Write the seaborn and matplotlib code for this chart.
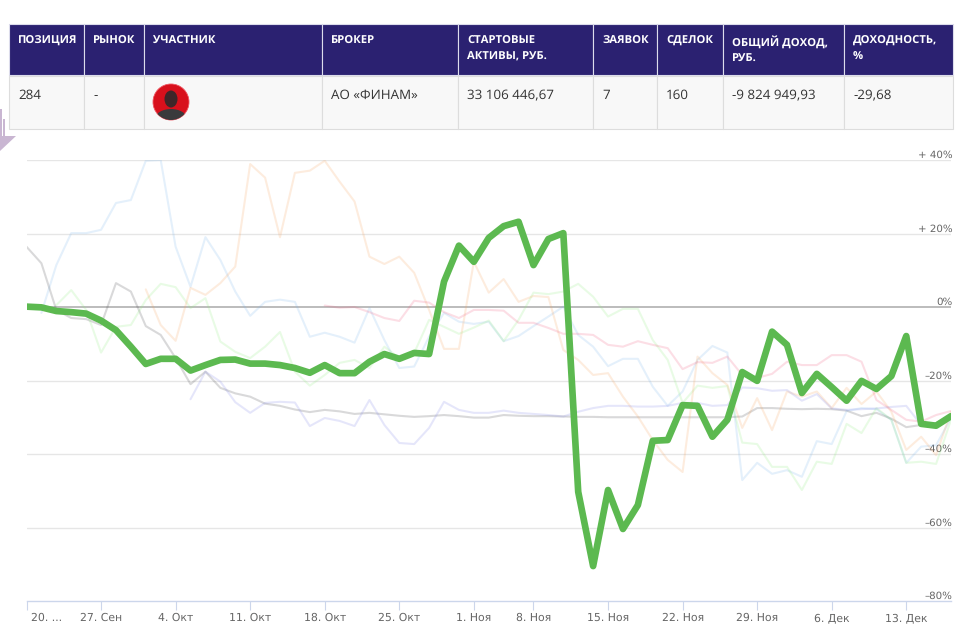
"""trader result card: summary table and return curves"""

import matplotlib.pyplot as plt
from matplotlib.patches import Circle, Ellipse, Polygon, Rectangle
from matplotlib.transforms import ScaledTranslation
import numpy as np
import pandas as pd
import seaborn as sns

nan = np.nan

# table
col_edges = [9, 84, 144, 322, 458, 593, 657, 723, 844, 953]
headers = [
    "ПОЗИЦИЯ",
    "РЫНОК",
    "УЧАСТНИК",
    "БРОКЕР",
    "СТАРТОВЫЕ\nАКТИВЫ, РУБ.",
    "ЗАЯВОК",
    "СДЕЛОК",
    "ОБЩИЙ ДОХОД,\nРУБ.",
    "ДОХОДНОСТЬ,\n%",
]
row = ["284", "-", "", "АО «ФИНАМ»", "33 106 446,67", "7", "160", "-9 824 949,93", "-29,68"]

# chart
tick_idx = [0, 5, 10, 15, 20, 25, 30, 34, 39, 44, 49, 54, 59]
tick_labels = [
    "20. ...", "27. Сен", "4. Окт", "11. Окт", "18. Окт", "25. Окт", "1. Ноя",
    "8. Ноя", "15. Ноя", "22. Ноя", "29. Ноя", "6. Дек", "13. Дек",
]
y_ticks = [40, 20, 0, -20, -40, -60, -80]
y_labels = ["+ 40%", "+ 20%", "0%", "–20%", "–40%", "–60%", "–80%"]

main = [
    0.1, -0.1, -1.1, -1.4, -1.8, -3.7, -6.3, -10.8, -15.5, -14.1,
    -14.1, -17.3, -15.8, -14.4, -14.3, -15.4, -15.4, -15.8, -16.6, -17.9,
    -15.8, -18, -18, -14.9, -12.8, -14.1, -12.5, -12.8, 6.9, 16.7,
    12.3, 18.8, 22, 23.2, 11.4, 18.5, 20.1, -50.3, -70.5, -49.8,
    -60.4, -53.9, -36.4, -36.2, -26.7, -26.9, -35.3, -30.7, -17.7, -20.1,
    -6.7, -10.3, -23.4, -18.2, -21.8, -25.5, -20.1, -22.3, -18.8, -7.9,
    -31.8, -32.3, -29.7,
]
gray = [
    16.4, 11.9, -0.8, -3, -3.3, -4.9, 6.5, 4.2, -5.2, -7.6,
    -13.9, -21, -17.6, -22, -23.5, -24.4, -26.3, -26.9, -27.9, -28.6,
    -28, -28.4, -29.1, -28.8, -29.2, -29.6, -29.9, -29.7, -29.4, -29.7,
    -30.1, -30.1, -29.4, -29.6, -29.7, -29.7, -29.8, -29.9, -29.9, -30,
    -30, -30, -30, -30, -30, -30, -30, -30, -29.8, -27.5,
    -27.5, -27.7, -27.8, -27.7, -27.8, -28.2, -29.7, -28.8, -30.4, -32.7,
    -32.1, -31.6, -29.4,
]
blue = [
    nan, -1.6, 11.4, 20.1, 20.1, 21, 28.3, 29.1, 39.8, 40,
    16.4, 5.5, 19, 12.8, 4.2, -2.4, 1.4, 2, 1.4, -8.1,
    -7, -8.1, -9.7, -0.3, -9, -16.6, -16.2, -8.1, -1.6, -4,
    -4.6, -4, -9.3, -7.9, -5.2, -2.6, 0.1, -7.6, -10.8, -16.1,
    -14.1, -14.1, -21.7, -26.9, -23, -14.4, -10.6, -12.4, -47.1, -42.4,
    -45.4, -44.4, -46.2, -36.5, -37.3, -28.3, -27.5, -27.8, -30.7, -42.4,
    -38, -37.6, -30.2,
]
orange = [
    nan, nan, nan, nan, nan, nan, nan, nan, 4.8, -4.9,
    -9.2, 5.2, 3.3, 6.5, 11, 38.9, 35.2, 19, 36.5, 37.1,
    39.8, 34.1, 28.7, 13.7, 11.7, 13.7, 9.3, -0.8, -11.4, -11.4,
    12.3, 3.9, 7.6, 1.4, 3, 2.7, -11.7, -14.4, -18.5, -18,
    -24.4, -29.8, -36.2, -41.6, -44.9, -13.5, -18, -21.2, -32.9, -24.8,
    -33.5, -23, -24.4, -23, -27.5, -22, -26.4, -23, -28.5, -38.9,
    -35.3, -40.3, -28.5,
]
pale_green = [
    nan, nan, 0.5, 4.6, -0.8, -12.4, -5.4, -4.9, 1.9, 6.3,
    5.4, -0.3, 2.4, -9.4, -12.2, -13.9, -10.8, -6.8, -17.6, -21.4,
    -18.5, -15.2, -14.4, -16.6, -10.8, -13.9, -12.5, -3.5, -5.4, -7.3,
    -5.6, -3.7, -9.3, -3.5, 3.9, 3.5, 4.2, 6.3, 2.8, -2.6,
    -0.5, -0.5, -9, -14.4, -26.1, -21.4, -22, -21.5, -36.9, -37.3,
    -43.5, -43.5, -49.8, -42.1, -42.7, -31.8, -34.3, -27.5, -30.7, -42.4,
    -42.1, -42.7, -30.7,
]
pink = [
    nan, nan, nan, nan, nan, nan, nan, nan, nan, nan,
    nan, nan, nan, nan, nan, nan, nan, nan, nan, nan,
    0.4, -0.2, 0, -1.4, -3, -3.8, 1.7, 1.2, -1.4, -3,
    -0.8, -0.8, -1, -4.3, -4.3, -5.7, -7.3, -7.3, -7.6, -10.3,
    -10.8, -9.3, -10.3, -11.2, -16.9, -15, -15.2, -13.5, -18.5, -19.3,
    -18.2, -14.9, -15.8, -15.8, -13.1, -13.1, -14.9, -25.3, -28, -30.7,
    -31.2, -29.4, -28.3,
]
lavender = [
    nan, nan, nan, nan, nan, nan, nan, nan, nan, nan,
    nan, -25.1, -17.6, -20.3, -25.9, -28.8, -26.1, -25.8, -26, -32.4,
    -30.2, -31, -32.4, -25.3, -32.1, -37, -37.3, -32.9, -25.8, -28,
    -28.8, -28.8, -28.2, -28.8, -29.1, -29.4, -29.8, -28.5, -27.5, -26.9,
    -26.9, -27.1, -27.1, -26.9, -26.1, -26.1, -26.9, -26.7, -21.9, -22.1,
    -22.8, -22.6, -25.5, -23.7, -27.6, -28, -27.8, -27.6, -27.2, -26.9,
    -32.1, -31.6, -29.8,
]

others = {
    "blue": blue,
    "gray": gray,
    "pale_green": pale_green,
    "orange": orange,
    "lavender": lavender,
    "pink": pink,
}
palette = {
    "blue": "#7cb5ec",
    "gray": "#434348",
    "pale_green": "#90ed7d",
    "orange": "#f7a35c",
    "lavender": "#8085e9",
    "pink": "#f15c80",
}

frames = []
for name, values in others.items():
    frames.append(pd.DataFrame({"day": range(len(values)), "ret": values, "who": name}))
df = pd.concat(frames, ignore_index=True)
main_df = pd.DataFrame({"day": range(len(main)), "ret": main})

sns.set_theme(style="white")
plt.rcParams["font.family"] = ["DejaVu Sans"]
plt.rcParams["text.hinting"] = "no_hinting"

W, H = 968, 638
fig = plt.figure(figsize=(W / 100, H / 100), dpi=100)

# table and decoration, drawn in pixel coordinates
bg = fig.add_axes([0, 0, 1, 1])
bg.set_xlim(0, W)
bg.set_ylim(H, 0)
bg.axis("off")

for i in range(len(headers)):
    x0, x1 = col_edges[i], col_edges[i + 1]
    bg.add_patch(Rectangle((x0, 24), x1 - x0, 51, fc="#2b2171", ec="#dcdcec", lw=0.8))
    bg.add_patch(Rectangle((x0, 76), x1 - x0, 53, fc="#f8f8f8", ec="#dddddd", lw=0.8))
    bg.text(x0 + 9, 35.5, headers[i], color="white", fontsize=8.1, fontweight="bold",
            family="Open Sans", va="top", linespacing=1.6)
    bg.text(x0 + 9, 95.5, row[i], color="#333333", fontsize=9.6, family="Open Sans",
            va="center")

# avatar
bg.add_patch(Circle((171, 102), 18, fc="#d8101c", ec="#ee5560", lw=0.6))
clip = Circle((171, 102), 18, transform=bg.transData)
neck = Ellipse((171, 119), 32, 20, fc="#3a3a3c", ec="none")
head = Ellipse((171, 99), 13, 17, fc="#3f2629", ec="none")
bg.add_patch(neck)
bg.add_patch(head)
neck.set_clip_path(clip)

# arrow on the left edge
bg.add_patch(Rectangle((0, 109), 1.5, 28, fc="#c9b6d2", ec="none"))
bg.add_patch(Rectangle((3, 119), 1.5, 18, fc="#c9b6d2", ec="none"))
bg.add_patch(Polygon([(0, 136), (16, 136), (0, 151)], fc="#c9b6d2", ec="none"))

# chart
ax = fig.add_axes([26.5 / W, 1 - 601 / H, (951 - 26.5) / W, (601 - 160) / H])
ax.patch.set_alpha(0)

for y in y_ticks:
    if y not in (0, -80):
        ax.axhline(y, color="#e6e6e6", lw=1, zorder=1)
ax.axhline(0, color="#b0b0b0", lw=1.2, zorder=1)

sns.lineplot(
    data=df, x="day", y="ret", hue="who", palette=palette, estimator=None, sort=False,
    linewidth=1.5, alpha=0.2, legend=False, ax=ax, zorder=2,
)
sns.lineplot(
    data=main_df, x="day", y="ret", color="#5cb950", estimator=None, sort=False,
    linewidth=4.8, legend=False, ax=ax, zorder=3,
)

ax.set_xlim(0, 62)
ax.set_ylim(-80, 40)
ax.set_xlabel("")
ax.set_ylabel("")

ax.set_xticks(tick_idx)
ax.set_xticklabels(tick_labels, color="#666666", fontsize=7.8)
ax.tick_params(axis="x", length=6.5, width=0.8, color="#ccd6eb", pad=2, bottom=True)
first = ax.get_xticklabels()[0]
first.set_ha("left")
first.set_transform(first.get_transform() + ScaledTranslation(4.5 / 100, 0, fig.dpi_scale_trans))

ax.yaxis.tick_right()
ax.set_yticks(y_ticks)
ax.set_yticklabels(y_labels, color="#666666", fontsize=7.4, ha="right", va="bottom")
ax.tick_params(axis="y", length=0, pad=1)

sns.despine(ax=ax, left=True, right=True, top=True)
ax.spines["bottom"].set_color("#ccd6eb")
ax.spines["bottom"].set_linewidth(1)

fig.savefig("out.png", dpi=100)
